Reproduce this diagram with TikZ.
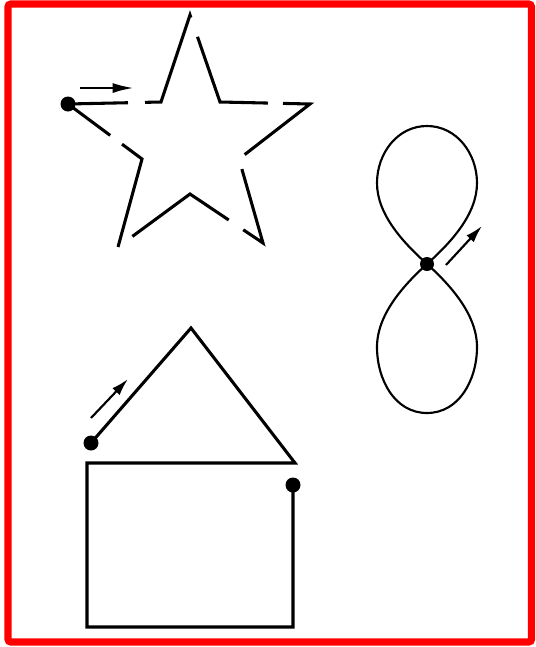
\documentclass[tikz,border=0pt]{standalone}
\usetikzlibrary{calc,arrows.meta}
\begin{document}
\begin{tikzpicture}[x=0.75pt,y=-0.75pt,
  stroke/.style={line width=2.3pt,black,line join=miter},
  thin stroke/.style={line width=1.6pt,black},
  dotmark/.style={fill=black},
  motion/.style={line width=1.9pt,-{Latex[length=16pt,width=7.5pt]}},
  motion small/.style={line width=1.6pt,-{Latex[length=13pt,width=7.5pt]}},
  frame/.style={draw=red,line width=5.3pt,rounded corners=2pt}]
\useasboundingbox (0,0) rectangle (536,647);
\draw[frame] (8,4) rectangle (531.5,642);

% star
\coordinate (D) at (68,104);
\coordinate (P1) at (161,102);
\coordinate (A) at (190,15);
\coordinate (P2) at (220,102);
\coordinate (T2) at (310,104);
\coordinate (P3) at (239,159);
\coordinate (T3) at (263,243);
\coordinate (P4) at (190,194);
\coordinate (T4) at (118,247);
\coordinate (P5) at (142,159);
\draw[stroke] (D) -- ($(D)!0.645!(P1)$);
\draw[stroke] ($(D)!0.828!(P1)$) -- (P1) -- (A) -- ($(A)!0.03!(P2)$);
\draw[stroke] ($(A)!0.25!(P2)$) -- (P2) -- ($(P2)!0.533!(T2)$);
\draw[stroke] ($(P2)!0.70!(T2)$) -- (T2) -- ($(T2)!0.92!(P3)$);
\draw[stroke] ($(P3)!0.12!(T3)$) -- (T3) -- ($(T3)!0.27!(P4)$);
\draw[stroke] ($(T3)!0.47!(P4)$) -- (P4) -- ($(P4)!0.8!(T4)$);
\draw[stroke] (T4) -- (P5) -- ($(P5)!0.27!(D)$);
\draw[stroke] ($(P5)!0.43!(D)$) -- (D);
\fill[dotmark] (D) circle (7.5);
\coordinate (sa1) at (80,88);
\coordinate (sa2) at (134,88);
\draw[motion] (sa1) -- (sa2);

% figure eight
\coordinate (C) at (427,264);
\coordinate (UL) at (377,183);
\coordinate (UT) at (427,126);
\coordinate (UR) at (477,183);
\coordinate (LL) at (377,347);
\coordinate (LB) at (427,413);
\coordinate (LR) at (477,347);
\draw[thin stroke] (C) to[out=138,in=-90,looseness=0.85] (UL) to[out=90,in=180] (UT)
  to[out=0,in=90] (UR) to[out=-90,in=42,looseness=0.85] (C)
  to[out=-138,in=90,looseness=0.85] (LL) to[out=-90,in=180] (LB)
  to[out=0,in=-90] (LR) to[out=90,in=-42,looseness=0.85] (C);
\fill[dotmark] (C) circle (7);
\coordinate (fa1) at (446,265);
\coordinate (fa2) at (482,226);
\draw[motion small] (fa1) -- (fa2);

% house
\coordinate (H0) at (91,443);
\coordinate (HA) at (191,328);
\coordinate (HR) at (295,463);
\coordinate (HTL) at (87,463);
\coordinate (HBL) at (87,627);
\coordinate (HBR) at (293,627);
\coordinate (H1) at (293,485);
\draw[stroke] (H0) -- (HA) -- (HR) -- (HTL) -- (HBL) -- (HBR) -- (H1);
\fill[dotmark] (H0) circle (7.5);
\fill[dotmark] (H1) circle (7.5);
\coordinate (ha1) at (91,418);
\coordinate (ha2) at (128,379);
\draw[motion small] (ha1) -- (ha2);
\end{tikzpicture}
\end{document}
